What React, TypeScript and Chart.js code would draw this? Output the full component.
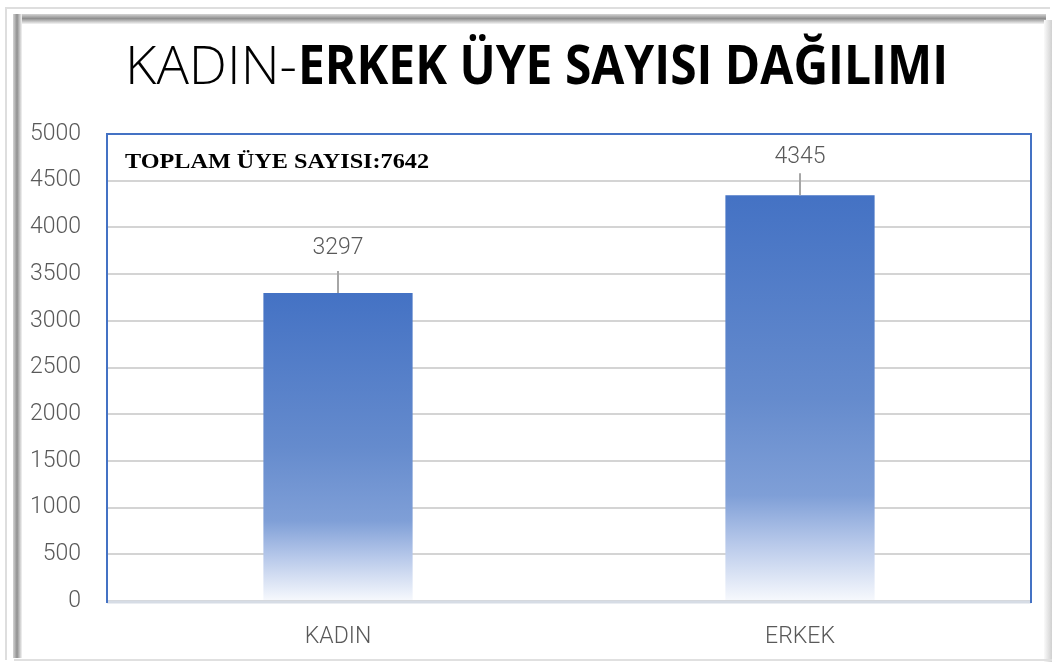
import React, { useEffect, useRef } from 'react';
import { Chart, registerables } from 'chart.js';

Chart.register(...registerables);

const categories = ['KADIN', 'ERKEK'];
const memberCounts = [3297, 4345];
const yTickValues = [0, 500, 1000, 1500, 2000, 2500, 3000, 3500, 4000, 4500, 5000];
const titleLight = 'KADIN-';
const titleBold = 'ERKEK ÜYE SAYISI DAĞILIMI';
const totalLabel = 'TOPLAM ÜYE SAYISI:7642';

// style constants (not data)
const labelOffsets = [45, 38];
const BLUE = '#4472C4';
const GRAY_TEXT = '#595959';

const framePlugin = {
  id: 'frame',
  beforeDraw(chart: any) {
    const ctx = chart.ctx as CanvasRenderingContext2D;
    const W = chart.width, H = chart.height;
    ctx.save();
    ctx.fillStyle = '#ffffff';
    ctx.fillRect(0, 0, W, H);
    ctx.fillStyle = '#dedede';
    ctx.fillRect(5, 7, W - 7, 2);
    ctx.fillRect(5, 7, 2, H - 9);
    let g = ctx.createLinearGradient(0, 14, 0, 24);
    g.addColorStop(0, '#d4d4d4');
    g.addColorStop(0.45, '#8f8f8f');
    g.addColorStop(1, '#f4f4f4');
    ctx.fillStyle = g;
    ctx.fillRect(14, 14, W - 20, 10);
    g = ctx.createLinearGradient(13, 0, 22, 0);
    g.addColorStop(0, '#d4d4d4');
    g.addColorStop(0.45, '#8f8f8f');
    g.addColorStop(1, '#f4f4f4');
    ctx.fillStyle = g;
    ctx.fillRect(13, 14, 9, H - 18);
    g = ctx.createLinearGradient(W - 8, 0, W, 0);
    g.addColorStop(0, '#fafafa');
    g.addColorStop(1, '#d0d0d0');
    ctx.fillStyle = g;
    ctx.fillRect(W - 8, 20, 8, H - 20);
    ctx.fillStyle = '#e0e0e0';
    ctx.fillRect(14, H - 3, W - 14, 2);
    ctx.restore();
  },
};

function drawFitted(ctx: CanvasRenderingContext2D, text: string, x: number, y: number, width: number) {
  const w = ctx.measureText(text).width;
  ctx.save();
  ctx.translate(x, y);
  ctx.scale(width / w, 1);
  ctx.fillText(text, 0, 0);
  ctx.restore();
}

const titlePlugin = {
  id: 'titleText',
  afterDraw(chart: any) {
    const ctx = chart.ctx as CanvasRenderingContext2D;
    ctx.save();
    ctx.fillStyle = '#000000';
    ctx.textBaseline = 'alphabetic';
    ctx.textAlign = 'left';
    ctx.font = '300 53px "Open Sans"';
    drawFitted(ctx, titleLight, 125, 84, 172);
    ctx.font = '700 53px "Open Sans"';
    drawFitted(ctx, titleBold, 298, 84, 650);
    ctx.font = 'bold 22px "Liberation Serif"';
    drawFitted(ctx, totalLabel, 125, 168, 304);
    ctx.restore();
  },
};

const plotBorderPlugin = {
  id: 'plotBorder',
  afterDatasetsDraw(chart: any) {
    const ctx = chart.ctx as CanvasRenderingContext2D;
    const { left, top, right, bottom } = chart.chartArea;
    ctx.save();
    ctx.strokeStyle = '#d6dce5';
    ctx.lineWidth = 3;
    ctx.beginPath();
    ctx.moveTo(left, bottom + 1);
    ctx.lineTo(right, bottom + 1);
    ctx.stroke();
    ctx.strokeStyle = BLUE;
    ctx.lineWidth = 2;
    ctx.beginPath();
    ctx.moveTo(left, bottom + 2);
    ctx.lineTo(left, top);
    ctx.lineTo(right, top);
    ctx.lineTo(right, bottom + 2);
    ctx.stroke();
    ctx.restore();
  },
};

const valueLabelPlugin = {
  id: 'valueLabels',
  afterDatasetsDraw(chart: any) {
    const ctx = chart.ctx as CanvasRenderingContext2D;
    const meta = chart.getDatasetMeta(0);
    ctx.save();
    meta.data.forEach((el: any, i: number) => {
      const off = labelOffsets[i] ?? 40;
      ctx.strokeStyle = '#a6a6a6';
      ctx.lineWidth = 2;
      ctx.beginPath();
      ctx.moveTo(el.x, el.y);
      ctx.lineTo(el.x, el.y - 22);
      ctx.stroke();
      ctx.fillStyle = GRAY_TEXT;
      ctx.font = '300 23px Roboto';
      ctx.textAlign = 'center';
      ctx.textBaseline = 'middle';
      ctx.fillText(String(memberCounts[i]), el.x, el.y - off);
    });
    ctx.restore();
  },
};

export default function App() {
  const canvasRef = useRef<HTMLCanvasElement | null>(null);

  useEffect(() => {
    document.body.style.margin = '0';
    const canvas = canvasRef.current;
    if (!canvas) return;
    const chart = new Chart(canvas, {
      type: 'bar',
      data: {
        labels: categories,
        datasets: [
          {
            data: memberCounts,
            borderWidth: 0,
            barPercentage: 0.323,
            categoryPercentage: 1,
            backgroundColor: (c: any) => {
              const ch = c.chart;
              const ys = ch.scales?.y;
              if (!ys || c.raw == null) return BLUE;
              const top = ys.getPixelForValue(c.raw);
              const base = ys.getPixelForValue(0);
              if (!isFinite(top) || !isFinite(base) || base === top) return BLUE;
              const g = ch.ctx.createLinearGradient(0, top, 0, base);
              g.addColorStop(0, '#4472C4');
              g.addColorStop(0.5, '#658bcd');
              g.addColorStop(0.74, '#7f9fd7');
              g.addColorStop(0.86, '#b8c9ea');
              g.addColorStop(1, '#f7f9fd');
              return g;
            },
          },
        ],
      },
      options: {
        animation: false,
        responsive: true,
        maintainAspectRatio: false,
        layout: { padding: { top: 134, right: 21, left: 0, bottom: 0 } },
        plugins: {
          legend: { display: false },
          title: { display: false },
          tooltip: { enabled: false },
        },
        scales: {
          x: {
            afterFit: (s: any) => { s.height = 61; },
            grid: { display: false, drawTicks: false },
            border: { display: false },
            ticks: {
              color: GRAY_TEXT,
              padding: 22,
              font: { family: 'Roboto', size: 23, weight: '300' as any },
            },
          },
          y: {
            min: 0,
            max: 5000,
            afterFit: (s: any) => { s.width = 107; },
            afterBuildTicks: (s: any) => { s.ticks = yTickValues.map((v) => ({ value: v })); },
            grid: { color: '#d4d4d4', lineWidth: 2, drawTicks: false },
            border: { display: false },
            ticks: {
              color: GRAY_TEXT,
              padding: 26,
              font: { family: 'Roboto', size: 23, weight: '300' as any },
              callback: (v: any) => String(v),
            },
          },
        },
      },
      plugins: [framePlugin, plotBorderPlugin, valueLabelPlugin, titlePlugin],
    });
    return () => chart.destroy();
  }, []);

  return (
    <div style={{ position: 'fixed', left: 0, top: 0, width: 1052, height: 662 }}>
      <canvas ref={canvasRef} />
    </div>
  );
}
